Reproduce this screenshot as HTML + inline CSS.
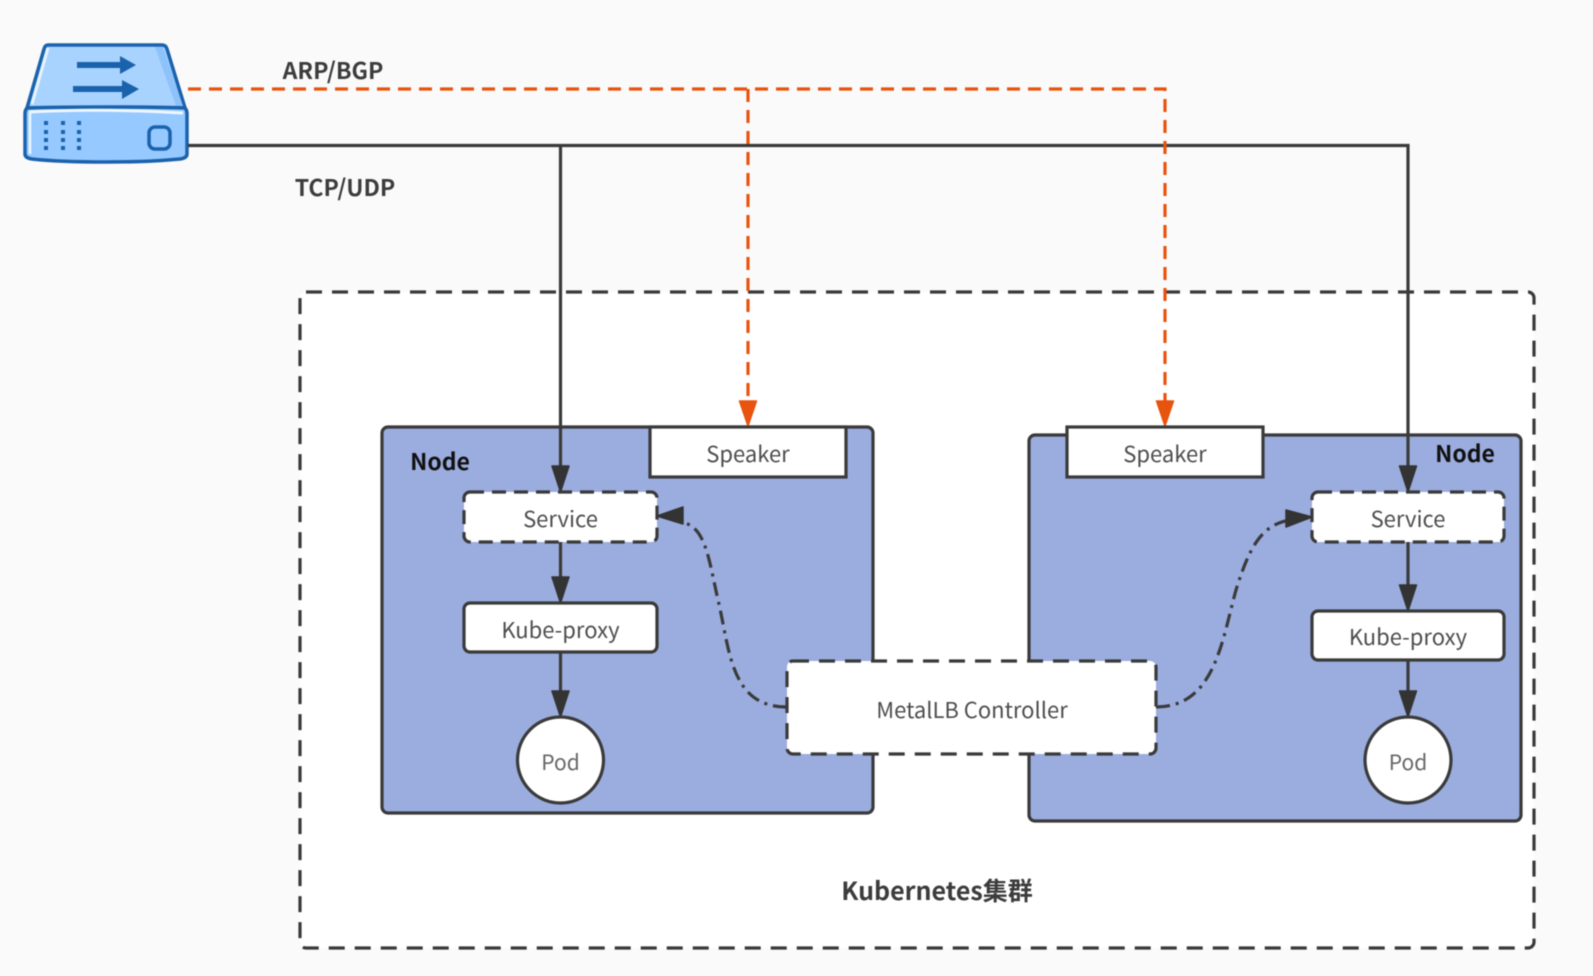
<!DOCTYPE html>
<html><head><meta charset="utf-8"><style>
html,body{margin:0;padding:0;background:#fafafa}
svg{display:block;filter:blur(.6px)}
text{font-family:"Liberation Sans","Noto Sans CJK SC",sans-serif;text-anchor:middle}
.t{font-family:"Noto Sans CJK SC","Liberation Sans",sans-serif;font-size:22px;fill:#4d4d4d}
.b{font-family:"Noto Sans CJK SC","Liberation Sans",sans-serif;font-size:23px;font-weight:700;fill:#3c3c3c}
.h{stroke-width:1.5;stroke-linejoin:round}
</style></head><body>
<svg width="1593" height="976" viewBox="0 0 1593 976" xmlns="http://www.w3.org/2000/svg">
<rect width="1593" height="976" fill="#fafafa"/>
<!-- cluster -->
<rect x="300" y="292" width="1234" height="656" rx="6" fill="#fff" stroke="#3a3a3a" stroke-width="3.200" stroke-dasharray="16 10"/>
<!-- nodes -->
<rect x="382" y="427" width="491" height="386" rx="6" fill="#9badde" stroke="#3a3a3a" stroke-width="3.200"/>
<rect x="1029" y="435" width="492" height="386" rx="6" fill="#9badde" stroke="#3a3a3a" stroke-width="3.200"/>
<text class="b" x="440" y="470" style="fill:#111">Node</text>
<text class="b" x="1465" y="462" style="fill:#111">Node</text>
<!-- icon -->
<path d="M48 45H162Q166 45 167 49L185 108H27L44 49Q45 45 48 45Z" fill="#a9d3ff" stroke="#1b62ad" stroke-width="3.500" stroke-linejoin="round"/>
<path d="M155 47H163L183 106H176Z" fill="#8ec2fb"/>
<path d="M48 48L32 104" stroke="#e6f3ff" stroke-width="3" fill="none"/>
<path d="M27 108Q50 107 106 107Q165 107 185 108Q187 110 187 114V154Q187 158 180 159Q150 162 106 162Q60 162 32 159Q25 158 25 154V114Q25 110 27 108Z" fill="#96c9ff" stroke="#1b62ad" stroke-width="3.500" stroke-linejoin="round"/>
<path d="M29 112Q100 108 183 113" stroke="#eef7ff" stroke-width="3" fill="none"/>
<path d="M30 113V154" stroke="#eef7ff" stroke-width="2.500" fill="none"/>
<rect x="149" y="127" width="21" height="22" rx="6" fill="none" stroke="#1b62ad" stroke-width="3.500"/>
<g fill="#1b62ad">
<path d="M77 62H120V56L136 65L120 74V68H77Z"/>
<path d="M73 86H122V80L139 89L122 99V92H73Z"/>
<rect x="44" y="121" width="4" height="4"/><rect x="44" y="130" width="4" height="4"/><rect x="44" y="138" width="4" height="4"/><rect x="44" y="146" width="4" height="4"/>
<rect x="61" y="121" width="4" height="4"/><rect x="61" y="130" width="4" height="4"/><rect x="61" y="138" width="4" height="4"/><rect x="61" y="146" width="4" height="4"/>
<rect x="77" y="121" width="4" height="4"/><rect x="77" y="130" width="4" height="4"/><rect x="77" y="138" width="4" height="4"/><rect x="77" y="146" width="4" height="4"/>
</g>
<!-- dark connectors -->
<path d="M188 145.500H1408V478M560.500 145.500V478" fill="none" stroke="#3a3a3a" stroke-width="3.200"/>
<path class="h" stroke="#333" d="M552 466H569L560.500 492Z M1399.500 466H1416.500L1408 492Z" fill="#333"/>
<!-- orange -->
<path d="M188 89H1165V410M748 89V410" fill="none" stroke="#e8530e" stroke-width="3.200" stroke-dasharray="13 8"/>
<path class="h" stroke="#e8530e" d="M739.500 401H756.500L748 426Z M1156.500 401H1173.500L1165 426Z" fill="#e8530e"/>
<text class="b" x="333" y="79">ARP/BGP</text>
<text class="b" x="345" y="196">TCP/UDP</text>
<!-- left stack -->
<rect x="650" y="427" width="196" height="50" fill="#fff" stroke="#3a3a3a" stroke-width="3.200"/>
<text class="t" x="748" y="462">Speaker</text>
<rect x="464" y="492" width="193" height="50" rx="6" fill="#fff" stroke="#3a3a3a" stroke-width="3.200" stroke-dasharray="14 8"/>
<text class="t" x="560.500" y="527">Service</text>
<path d="M560.500 542V590M560.500 652V702" stroke="#3a3a3a" stroke-width="3.200"/>
<path class="h" stroke="#333" d="M552 577H569L560.500 603Z M552 691H569L560.500 717Z" fill="#333"/>
<rect x="464" y="603" width="193" height="49" rx="6" fill="#fff" stroke="#3a3a3a" stroke-width="3.200"/>
<text class="t" x="560.500" y="638">Kube-proxy</text>
<circle cx="560.500" cy="760" r="43" fill="#fff" stroke="#3a3a3a" stroke-width="3.200"/>
<text class="t" x="560.500" y="770" style="font-size:21px;fill:#666">Pod</text>
<!-- right stack -->
<rect x="1067" y="427" width="196" height="50" fill="#fff" stroke="#3a3a3a" stroke-width="3.200"/>
<text class="t" x="1165" y="462">Speaker</text>
<rect x="1312" y="492" width="192" height="50" rx="6" fill="#fff" stroke="#3a3a3a" stroke-width="3.200" stroke-dasharray="14 8"/>
<text class="t" x="1408" y="527">Service</text>
<path d="M1408 542V598M1408 660V702" stroke="#3a3a3a" stroke-width="3.200"/>
<path class="h" stroke="#333" d="M1399.500 585H1416.500L1408 611Z M1399.500 691H1416.500L1408 717Z" fill="#333"/>
<rect x="1312" y="611" width="192" height="49" rx="6" fill="#fff" stroke="#3a3a3a" stroke-width="3.200"/>
<text class="t" x="1408" y="645">Kube-proxy</text>
<circle cx="1408" cy="760" r="43" fill="#fff" stroke="#3a3a3a" stroke-width="3.200"/>
<text class="t" x="1408" y="770" style="font-size:21px;fill:#666">Pod</text>
<!-- controller -->
<rect x="787" y="661" width="369" height="93" rx="6" fill="#fff" stroke="#3a3a3a" stroke-width="3.200" stroke-dasharray="16 10"/>
<text class="t" x="972" y="718">MetalLB Controller</text>
<path d="M787 707C730 707 730 650 718 600C708 555 705 525 680 522" fill="none" stroke="#3a3a3a" stroke-width="3.200" stroke-dasharray="14 6 3 6"/>
<path class="h" stroke="#333" d="M657 516L683 507V524Z" fill="#333"/>
<path d="M1156 707C1215 707 1222 640 1236 590C1250 545 1262 525 1290 520" fill="none" stroke="#3a3a3a" stroke-width="3.200" stroke-dasharray="14 6 3 6"/>
<path class="h" stroke="#333" d="M1312 517L1286 510V527Z" fill="#333"/>
<text class="b" x="937" y="900" style="font-size:25px">Kubernetes集群</text>
</svg>
</body></html>
